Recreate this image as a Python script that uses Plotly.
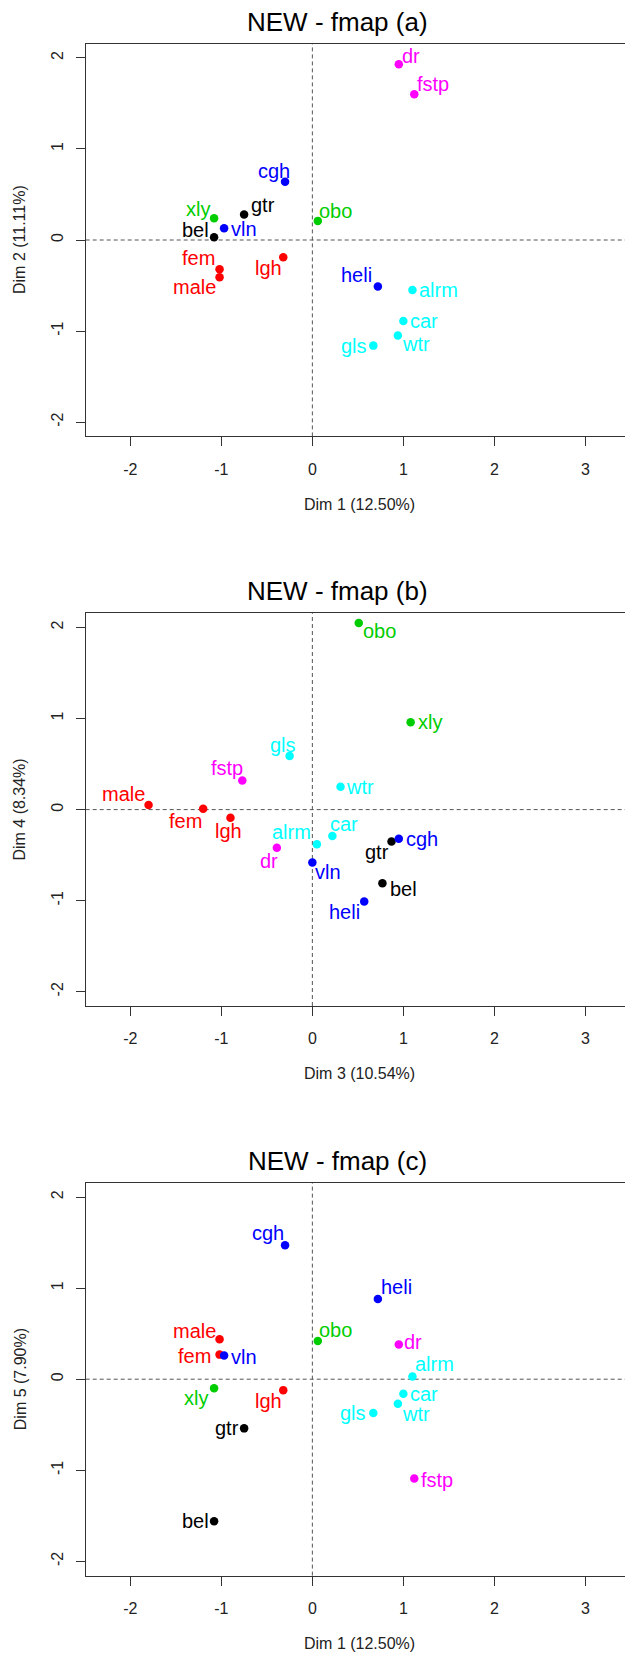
import plotly.graph_objects as go

# ---- data -------------------------------------------------------------
labels = ["male", "fem", "lgh", "gtr", "bel", "cgh", "vln", "heli",
          "xly", "obo", "dr", "fstp", "alrm", "car", "wtr", "gls"]
groups = ["voice", "voice", "voice", "string", "string", "bowed", "bowed", "bowed",
          "wood", "wood", "perc", "perc", "noise", "noise", "noise", "noise"]

dim1 = [-1.02, -1.02, -0.32, -0.75, -1.08, -0.30, -0.97, 0.72,
        -1.08, 0.06, 0.95, 1.12, 1.10, 1.00, 0.94, 0.67]
dim2 = [-0.41, -0.32, -0.19, 0.28, 0.03, 0.64, 0.13, -0.51,
        0.24, 0.21, 1.93, 1.60, -0.55, -0.89, -1.05, -1.16]
dim3 = [-1.80, -1.20, -0.90, 0.87, 0.77, 0.95, 0.00, 0.57,
        1.08, 0.51, -0.39, -0.77, 0.05, 0.22, 0.31, -0.25]
dim4 = [0.05, 0.01, -0.09, -0.35, -0.81, -0.32, -0.58, -1.01,
        0.96, 2.05, -0.42, 0.32, -0.38, -0.29, 0.25, 0.59]
dim5 = [0.44, 0.27, -0.12, -0.54, -1.56, 1.47, 0.26, 0.88,
        -0.10, 0.42, 0.38, -1.09, 0.03, -0.16, -0.27, -0.37]

x_ticks = [-2, -1, 0, 1, 2, 3]
y_ticks = [-2, -1, 0, 1, 2]

panels = [
    dict(title="NEW - fmap (a)", x=dim1, y=dim2, xlab="Dim 1 (12.50%)", ylab="Dim 2 (11.11%)"),
    dict(title="NEW - fmap (b)", x=dim3, y=dim4, xlab="Dim 3 (10.54%)", ylab="Dim 4 (8.34%)"),
    dict(title="NEW - fmap (c)", x=dim1, y=dim5, xlab="Dim 1 (12.50%)", ylab="Dim 5 (7.90%)"),
]

# ---- styling ------------------------------------------------------------
group_colors = {
    "voice": "#FF0000", "string": "#000000", "bowed": "#0000FF",
    "wood": "#00CD00", "perc": "#FF00FF", "noise": "#00FFFF",
}

# label offsets (px, right / down) of each text centre from its point
label_offsets = [
    {"male": (-25, 10), "fem": (-21, -11), "lgh": (-15, 11), "gtr": (19, -10),
     "bel": (-19, -7), "cgh": (-11, -11), "vln": (20, 1), "heli": (-21, -11),
     "xly": (-16, -9), "obo": (18, -10), "dr": (12, -8), "fstp": (19, -10),
     "alrm": (26, 0), "car": (21, 0), "wtr": (18, 8), "gls": (-19, 0)},
    {"male": (-25, -11), "fem": (-18, 12), "lgh": (-2, 13), "gtr": (-15, 11),
     "bel": (21, 6), "cgh": (23, 0), "vln": (16, 10), "heli": (-20, 10),
     "xly": (19, 0), "obo": (21, 8), "dr": (-8, 13), "fstp": (-15, -12),
     "alrm": (-25, -12), "car": (12, -12), "wtr": (19, 0), "gls": (-7, -11)},
    {"male": (-25, -8), "fem": (-25, 1), "lgh": (-15, 11), "gtr": (-17, 0),
     "bel": (-19, 0), "cgh": (-17, -12), "vln": (20, 1), "heli": (19, -12),
     "xly": (-18, 10), "obo": (18, -11), "dr": (14, -3), "fstp": (23, 2),
     "alrm": (22, -12), "car": (21, 0), "wtr": (18, 10), "gls": (-20, 0)},
]

FONT = "Liberation Sans, Arial, Helvetica, sans-serif"
W, H = 625, 1654
PANEL_STEP = 569.6          # vertical distance between panels (px)
BOX_TOP, BOX_BOTTOM = 43.6, 436.4
BOX_LEFT = 85.7
X_RANGE = [-2.491, 3.436]
Y_RANGE = [-2.157, 2.157]
AXIS_COLOR = "#333333"

fig = go.Figure()
layout_axes = {}
annotations = []
shapes = []

for i, p in enumerate(panels):
    n = "" if i == 0 else str(i + 1)
    xa, ya = "x" + n, "y" + n
    off = PANEL_STEP * i
    top_px, bot_px = BOX_TOP + off, BOX_BOTTOM + off

    colors = [group_colors[g] for g in groups]
    fig.add_trace(go.Scatter(
        x=p["x"], y=p["y"], mode="markers", xaxis=xa, yaxis=ya,
        marker=dict(size=8.5, color=colors, line=dict(width=0)),
        hoverinfo="text", text=labels, showlegend=False,
    ))

    for lab, g, xv, yv in zip(labels, groups, p["x"], p["y"]):
        dx, dy = label_offsets[i][lab]
        annotations.append(dict(
            x=xv, y=yv, xref=xa, yref=ya, text=lab, showarrow=False,
            xanchor="center", yanchor="middle", xshift=dx, yshift=-dy,
            font=dict(family=FONT, size=20, color=group_colors[g]),
        ))

    common = dict(
        showgrid=False, zeroline=False, showline=True, linecolor=AXIS_COLOR,
        linewidth=1, ticks="outside", ticklen=9, tickwidth=1, tickcolor=AXIS_COLOR,
        tickfont=dict(family=FONT, size=16, color="#222222"),
    )
    layout_axes["xaxis" + n] = dict(
        common, domain=[BOX_LEFT / W, 1.0], range=X_RANGE, anchor=ya,
        tickvals=x_ticks, ticktext=[str(t) for t in x_ticks], mirror=True,
        ticklabelstandoff=9,
    )
    layout_axes["yaxis" + n] = dict(
        common, domain=[1 - bot_px / H, 1 - top_px / H], range=Y_RANGE, anchor=xa,
        tickvals=y_ticks, ticktext=[str(t) for t in y_ticks], tickangle=-90,
        ticklabelstandoff=6,
    )

    # dashed reference lines through the origin
    dash = dict(color="#555555", width=1, dash="4px,3px")
    shapes.append(dict(type="line", xref=xa, yref=ya + " domain",
                       x0=0, x1=0, y0=0, y1=1, line=dash, layer="below"))
    shapes.append(dict(type="line", xref=xa + " domain", yref=ya,
                       x0=0, x1=1, y0=0, y1=0, line=dash, layer="below"))

    # title and axis titles
    annotations.append(dict(
        x=338 / W, y=1 - (21.5 + off) / H, xref="paper", yref="paper",
        text=p["title"], showarrow=False, xanchor="center", yanchor="middle",
        font=dict(family=FONT, size=26, color="#000000"),
    ))
    annotations.append(dict(
        x=359 / W, y=1 - (504 + off) / H, xref="paper", yref="paper",
        text=p["xlab"], showarrow=False, xanchor="center", yanchor="middle",
        font=dict(family=FONT, size=16, color="#222222"),
    ))
    annotations.append(dict(
        x=20 / W, y=1 - (240 + off) / H, xref="paper", yref="paper",
        text=p["ylab"], showarrow=False, xanchor="center", yanchor="middle",
        textangle=-90, font=dict(family=FONT, size=16, color="#222222"),
    ))

fig.update_layout(
    width=W, height=H, margin=dict(l=0, r=0, t=0, b=0),
    paper_bgcolor="white", plot_bgcolor="white",
    annotations=annotations, shapes=shapes, **layout_axes,
)

fig.write_html("out.html")
